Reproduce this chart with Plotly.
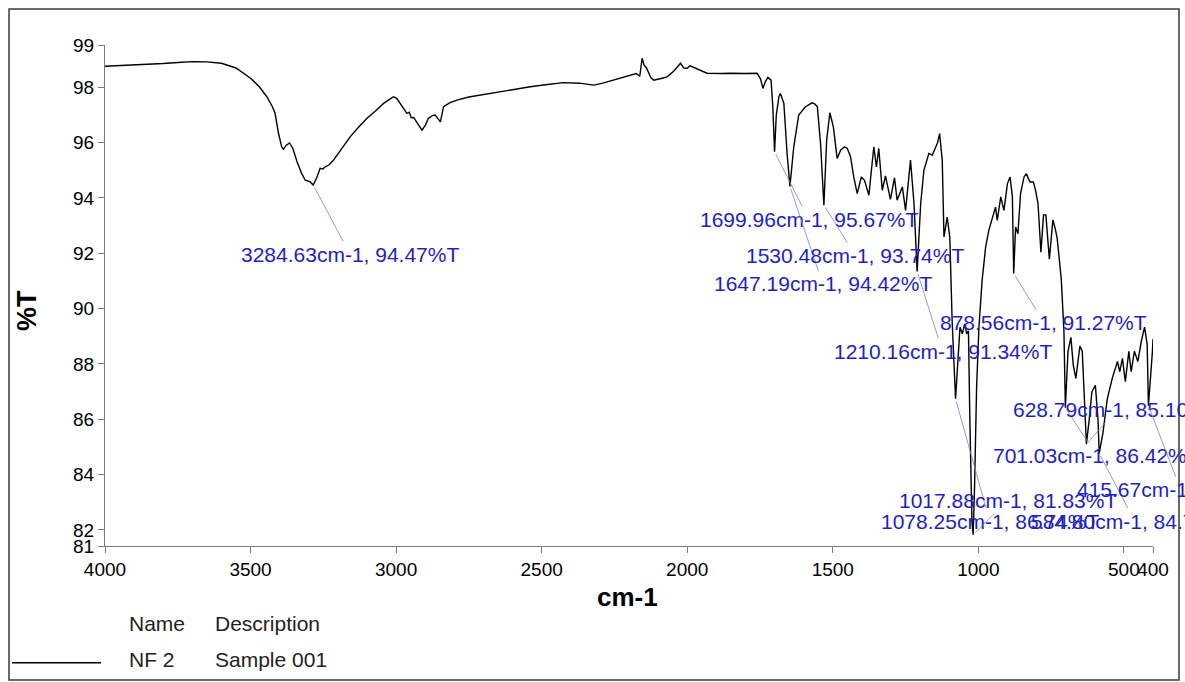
import plotly.graph_objects as go

# FT-IR spectrum of sample NF 2 (wavenumber in cm-1, transmittance in %T)
wavenumber = [
    4000, 3950, 3900, 3850, 3800, 3750, 3700, 3650, 3600, 3550, 3500, 3470,
    3444, 3425, 3416, 3404, 3393, 3387, 3378, 3366, 3355, 3340, 3325, 3312,
    3295, 3284.63, 3272, 3261, 3252, 3244, 3230, 3215, 3190, 3158, 3130, 3100,
    3070, 3043, 3020, 3009, 2998, 2986, 2975, 2963, 2955, 2948, 2940, 2930,
    2920, 2911, 2900, 2889, 2875, 2866, 2855, 2848, 2842, 2837, 2815, 2791,
    2750, 2711, 2670, 2631, 2590, 2539, 2480, 2425, 2370, 2321, 2290, 2253,
    2220, 2195, 2175, 2163, 2155, 2148, 2140, 2125, 2115, 2090, 2069, 2045,
    2023, 2012, 2000, 1990, 1978, 1955, 1932, 1880, 1852, 1800, 1760, 1748,
    1740, 1732, 1723, 1712, 1706, 1699.96, 1694, 1685, 1680, 1668, 1657,
    1647.19, 1640, 1634, 1617, 1594, 1571, 1562, 1553, 1542, 1530.48, 1521,
    1510, 1498, 1485, 1473, 1460, 1450, 1439, 1428, 1416, 1402, 1391, 1376,
    1359, 1350, 1342, 1330, 1319, 1302, 1288, 1279, 1261, 1250, 1233, 1221,
    1210.16, 1198, 1187, 1170, 1158, 1147, 1140, 1133, 1124, 1118, 1107, 1098,
    1090, 1078.25, 1070, 1063, 1055, 1047, 1040, 1034, 1029, 1022, 1017.88,
    1013, 1006, 998, 987, 975, 964, 952, 941, 935, 923, 912, 900, 891, 883,
    878.56, 872, 864, 855, 843, 835, 828, 822, 811, 803, 795, 785, 776, 768,
    756, 744, 736, 729, 715, 706, 701.03, 692, 682, 674, 665, 651, 643, 636,
    628.79, 619, 610, 598, 589, 584.80, 572, 557, 540, 522, 514, 505, 495,
    483, 475, 464, 452, 440, 429, 420, 415.67, 402, 400,
]
transmittance = [
    98.76, 98.78, 98.80, 98.82, 98.86, 98.90, 98.93, 98.92, 98.87, 98.70, 98.33, 98.02,
    97.66, 97.30, 97.07, 96.34, 95.85, 95.76, 95.90, 95.99, 95.80, 95.30, 94.90, 94.64,
    94.58, 94.47, 94.75, 95.07, 95.05, 95.12, 95.20, 95.37, 95.75, 96.21, 96.55, 96.88,
    97.15, 97.42, 97.58, 97.66, 97.60, 97.42, 97.25, 97.06, 97.10, 96.90, 96.91, 96.75,
    96.55, 96.45, 96.62, 96.88, 96.98, 97.00, 96.85, 96.75, 97.05, 97.30, 97.45, 97.54,
    97.65, 97.72, 97.78, 97.84, 97.92, 98.02, 98.10, 98.17, 98.15, 98.08, 98.15, 98.26,
    98.35, 98.42, 98.50, 98.40, 99.05, 98.80, 98.70, 98.35, 98.26, 98.32, 98.38, 98.60,
    98.87, 98.70, 98.69, 98.78, 98.72, 98.60, 98.51, 98.50, 98.51, 98.50, 98.51, 98.30,
    97.96, 98.20, 98.36, 98.26, 97.30, 95.67, 97.00, 97.66, 97.78, 97.42, 95.61,
    94.42, 95.30, 95.85, 97.00, 97.30, 97.44, 97.40, 97.30, 95.97, 93.74, 96.09,
    97.08, 96.57, 95.43, 95.73, 95.85, 95.79, 95.49, 94.76, 94.16, 94.76, 94.64, 94.10,
    95.85, 95.12, 95.79, 94.28, 94.80, 93.95, 94.73, 93.92, 94.40, 93.55, 95.37, 93.80,
    91.34, 93.80, 95.00, 95.61, 95.55, 95.85, 96.00, 96.33, 95.37, 92.59, 93.31, 92.59,
    89.57, 86.74, 88.37, 89.33, 89.09, 89.45, 89.09, 89.20, 85.94, 82.32, 81.83,
    83.53, 87.15, 89.33, 91.02, 92.22, 92.83, 93.31, 93.67, 93.19, 94.04, 93.55, 94.52, 94.76, 94.04,
    91.27, 92.95, 92.71, 94.16, 94.76, 94.88, 94.70, 94.58, 94.58, 94.26, 93.80, 92.04, 93.39, 93.39,
    91.79, 93.21, 92.90, 92.53, 91.05, 89.21, 86.42, 88.46, 88.96, 87.97, 87.48, 88.65, 88.46, 86.74,
    85.10, 86.00, 86.99, 87.23, 86.00, 84.77, 85.51, 86.74, 87.48, 88.09, 87.72, 88.20, 87.36,
    88.46, 87.72, 88.46, 88.09, 88.83, 89.33, 88.71, 86.49, 88.46, 88.90,
]

# Labelled peaks
peak_wn = [3284.63, 1699.96, 1647.19, 1530.48, 1210.16, 1078.25, 1017.88,
           878.56, 701.03, 628.79, 584.80, 415.67]
peak_t = [94.47, 95.67, 94.42, 93.74, 91.34, 86.74, 81.83,
          91.27, 86.42, 85.10, 84.77, 86.49]
# Where each peak label sits (cm-1, %T)
label_wn = [3158, 1583, 1535, 1422, 1123, 961, 899, 775, 593, 525, 463, 305]
label_t = [91.96, 93.23, 90.90, 91.92, 88.45, 82.32, 83.08, 89.51, 84.68, 86.34, 82.32, 83.45]

x_ticks = [4000, 3500, 3000, 2500, 2000, 1500, 1000, 500, 400]
y_range = [81.42, 99.53]
y_ticks = [y_range[0], 82, 84, 86, 88, 90, 92, 94, 96, 98, y_range[1]]
y_ticktext = ["81", "82", "84", "86", "88", "90", "92", "94", "96", "98", "99"]

legend_name = "NF 2"
legend_desc = "Sample 001"

FONT = "Liberation Sans, Arial, sans-serif"
AXIS_GRAY = "#7a7a7a"

fig = go.Figure()
fig.add_trace(go.Scatter(
    x=wavenumber, y=transmittance, mode="lines",
    line=dict(color="black", width=1.4), hoverinfo="skip", showlegend=False,
))

for w, t, lw, lt in zip(peak_wn, peak_t, label_wn, label_t):
    fig.add_annotation(
        x=w, y=t, ax=lw, ay=lt, axref="x", ayref="y",
        text=f"{w:.2f}cm-1, {t:.2f}%T",
        showarrow=True, arrowhead=0, arrowwidth=0.8, arrowcolor="#7c7cd8",
        standoff=3,
        font=dict(family=FONT, size=21, color="#1e1ec8"),
        xanchor="center", yanchor="middle",
    )

# Axis titles
fig.add_annotation(x=0.499, y=-0.102, xref="paper", yref="paper", text="<b>cm-1</b>",
                   showarrow=False, xanchor="center", yanchor="middle",
                   font=dict(family=FONT, size=26, color="black"))
fig.add_annotation(x=-0.0745, y=0.471, xref="paper", yref="paper", text="<b>%T</b>",
                   textangle=-90, showarrow=False, xanchor="center", yanchor="middle",
                   font=dict(family=FONT, size=27, color="black"))

# Legend table below the plot
legend_font = dict(family=FONT, size=21, color="#222222")
for txt, xp, yp in [("Name", 0.021, -0.1537), ("Description", 0.103, -0.1537),
                    (legend_name, 0.021, -0.2275), (legend_desc, 0.103, -0.2275)]:
    fig.add_annotation(x=xp, y=yp, xref="paper", yref="paper", text=txt,
                       showarrow=False, xanchor="left", yanchor="middle", font=legend_font)
fig.add_shape(type="line", xref="paper", yref="paper", x0=-0.0887, x1=-0.0038,
              y0=-0.2329, y1=-0.2329, line=dict(color="black", width=1.4))

# Outer frame
fig.add_shape(type="rect", xref="paper", yref="paper", x0=-0.0916, x1=1.0248,
              y0=-0.2675, y1=1.0719, line=dict(color="#3a3a3a", width=1.5))

fig.update_xaxes(
    range=[4000, 400], tickvals=x_ticks, ticktext=[str(v) for v in x_ticks],
    tickangle=0, showline=True, linecolor=AXIS_GRAY, linewidth=1,
    ticks="outside", ticklen=6, tickcolor=AXIS_GRAY, showgrid=False, zeroline=False,
    tickfont=dict(family=FONT, size=19, color="black"),
)
fig.update_yaxes(
    range=y_range, tickvals=y_ticks, ticktext=y_ticktext,
    showline=True, linecolor=AXIS_GRAY, linewidth=1,
    ticks="outside", ticklen=6, tickcolor=AXIS_GRAY, showgrid=False, zeroline=False,
    tickfont=dict(family=FONT, size=19, color="black"),
)
fig.update_layout(
    width=1185, height=682,
    margin=dict(l=105, r=32, t=45, b=136),
    paper_bgcolor="white", plot_bgcolor="white",
    showlegend=False,
)

fig.write_html("out.html")
